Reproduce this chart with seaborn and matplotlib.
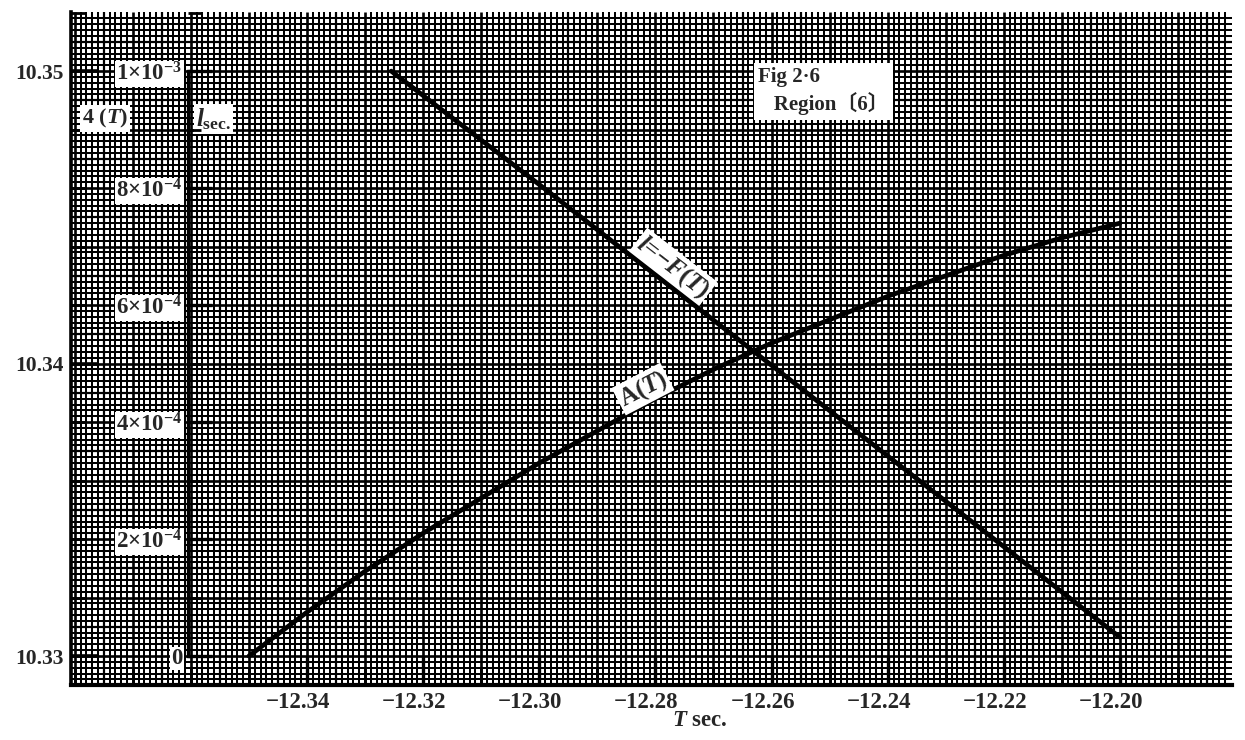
import numpy as np
import pandas as pd
import matplotlib
matplotlib.use("Agg")
import matplotlib.pyplot as plt
import seaborn as sns
from matplotlib.ticker import FixedLocator, MultipleLocator
from matplotlib.transforms import ScaledTranslation

# ---------------- data ----------------
T_A = [-12.35, -12.34, -12.33, -12.32, -12.31, -12.30, -12.29, -12.28,
       -12.27, -12.26, -12.25, -12.24, -12.23, -12.22, -12.21, -12.20]
A_vals = [10.3300, 10.3315, 10.3329, 10.3342, 10.3354, 10.3366, 10.3377, 10.3388,
          10.3398, 10.3407, 10.3415, 10.3423, 10.3430, 10.3437, 10.3443, 10.3448]

T_F = [-12.3255, -12.30, -12.26, -12.22, -12.20]
F_vals = [1.0e-3, 8.06e-4, 4.97e-4, 1.87e-4, 3.2e-5]

x_ticks = [-12.34, -12.32, -12.30, -12.28, -12.26, -12.24, -12.22, -12.20]
x_labels = ["−12.34", "−12.32", "−12.30", "−12.28", "−12.26", "−12.24", "−12.22", "−12.20"]
left_ticks = [10.33, 10.34, 10.35]
left_labels = ["10.33", "10.34", "10.35"]
l_ticks = [0, 2e-4, 4e-4, 6e-4, 8e-4, 1e-3]
l_labels = ["0", "2×10$^{-4}$", "4×10$^{-4}$", "6×10$^{-4}$", "8×10$^{-4}$", "1×10$^{-3}$"]

# ---------------- style ----------------
sns.set_style("ticks")
plt.rcParams["font.family"] = ["Liberation Serif", "DejaVu Serif"]
plt.rcParams["font.weight"] = "bold"
plt.rcParams["mathtext.fontset"] = "custom"
plt.rcParams["mathtext.rm"] = "Liberation Serif:bold"
plt.rcParams["mathtext.it"] = "Liberation Serif:italic:bold"
plt.rcParams["mathtext.default"] = "regular"

W, H = 1245, 740
fig = plt.figure(figsize=(W / 100, H / 100), dpi=100, facecolor="white")
L, R, TOP, BOT = 71, 1232, 12, 685
ax = fig.add_axes([L / W, 1 - BOT / H, (R - L) / W, (BOT - TOP) / H])

xlim = (-12.38064, -12.18071)
ylim = (10.32901, 10.35202)
ax.set_xlim(*xlim)
ax.set_ylim(*ylim)

# ---------------- graph paper background ----------------
def grid_lines(lo, hi, step):
    k0 = int(np.ceil(lo / step - 1e-9))
    k1 = int(np.floor(hi / step + 1e-9))
    return np.arange(k0, k1 + 1)

LW_FINE, LW_MED, LW_HEAVY = 1.45, 1.6, 1.9

kx = grid_lines(xlim[0], xlim[1] - 0.0004, 0.001)
for cls, lw in ((0, LW_FINE), (1, LW_MED), (2, LW_HEAVY)):
    if cls == 0:
        sel = kx[(kx % 5) != 0]
    elif cls == 1:
        sel = kx[((kx % 5) == 0) & ((kx % 10) != 0)]
    else:
        sel = kx[(kx % 10) == 0]
    ax.vlines(sel * 0.001, 0, 1, transform=ax.get_xaxis_transform(),
              colors="black", lw=lw, zorder=0.5)

ky = grid_lines(ylim[0], ylim[1] - 0.00005, 0.0002)
for cls, lw in ((0, LW_FINE), (1, LW_MED), (2, LW_HEAVY)):
    if cls == 0:
        sel = ky[(ky % 5) != 0]
    elif cls == 1:
        sel = ky[((ky % 5) == 0) & ((ky % 10) != 0)]
    else:
        sel = ky[(ky % 10) == 0]
    ax.hlines(sel * 0.0002, 0, 1, transform=ax.get_yaxis_transform(),
              colors="black", lw=lw, zorder=0.5)

# ---------------- curves ----------------
dfA = pd.DataFrame({"T": T_A, "A": A_vals})
sns.lineplot(data=dfA, x="T", y="A", ax=ax, color="black", lw=3.4, zorder=3,
             estimator=None, sort=True)

ax2 = ax.twinx()
dfF = pd.DataFrame({"T": T_F, "l": F_vals})
sns.lineplot(data=dfF, x="T", y="l", ax=ax2, color="black", lw=3.4, zorder=3,
             estimator=None, sort=True)

ax.set_xlim(*xlim)
ax.set_ylim(*ylim)
ax2.set_ylim((ylim[0] - 10.33) * 0.05, (ylim[1] - 10.33) * 0.05)
ax.set_ylabel("")
ax2.set_ylabel("")

# ---------------- outer axes ----------------
for s in ("top", "right"):
    ax.spines[s].set_visible(False)
ax.spines["left"].set_linewidth(2.6)
ax.spines["bottom"].set_linewidth(3.0)
ax.spines["left"].set_color("black")
ax.spines["bottom"].set_color("black")

ax.xaxis.set_major_locator(FixedLocator(x_ticks))
ax.set_xticklabels(x_labels)
ax.xaxis.set_minor_locator(MultipleLocator(0.01))
ax.tick_params(axis="x", which="major", direction="in", length=21, width=2.4,
               color="black", labelsize=16.5, pad=5)
ax.tick_params(axis="x", which="minor", direction="in", length=12, width=2.0,
               color="black")
for lab in ax.get_xticklabels():
    lab.set_transform(lab.get_transform() + ScaledTranslation(-0.09, 0, fig.dpi_scale_trans))
    lab.set_fontweight("bold")

ax.yaxis.set_major_locator(FixedLocator(left_ticks))
ax.set_yticklabels(left_labels)
ax.yaxis.set_minor_locator(MultipleLocator(0.002))
ax.tick_params(axis="y", which="major", direction="in", length=19, width=2.6,
               color="black", labelsize=15.5, pad=5)
ax.tick_params(axis="y", which="minor", direction="in", length=10, width=2.0,
               color="black")
for lab in ax.get_yticklabels():
    lab.set_fontweight("bold")

ax.set_xlabel("$\\mathit{T}$ sec.", fontsize=16.5, fontweight="bold")
ax.xaxis.set_label_coords((700 - L) / (R - L), (BOT - 720) / (BOT - TOP))
ax.xaxis.label.set_va("center")

# ---------------- inner l axis ----------------
ax2.patch.set_visible(False)
for s in ("top", "right", "bottom"):
    ax2.spines[s].set_visible(False)
ax2.spines["left"].set_visible(True)
ax2.spines["left"].set_position(("data", -12.3605))
ax2.spines["left"].set_bounds(0, 1e-3)
ax2.spines["left"].set_linewidth(2.4)
ax2.spines["left"].set_color("black")
ax2.yaxis.tick_left()
ax2.yaxis.set_major_locator(FixedLocator(l_ticks))
ax2.set_yticklabels(l_labels)
ax2.yaxis.set_minor_locator(MultipleLocator(1e-4))
ax2.tick_params(axis="y", which="major", direction="in", length=17, width=2.4,
                color="black", labelsize=16.5, pad=4)
ax2.tick_params(axis="y", which="minor", direction="in", length=9, width=2.0,
                color="black")
for lab in ax2.get_yticklabels():
    lab.set_fontweight("bold")
    lab.set_bbox(dict(facecolor="white", edgecolor="none", pad=1.0))
ax2.set_xlim(*xlim)

# ---------------- annotations ----------------
box = dict(facecolor="white", edgecolor="none", pad=1.5)

def px(xp, yp):
    return (-12.34 + (xp - 307) / 5807.0, 10.35 - (yp - 71) / 29250.0)

x0, y0 = px(105, 118)
ax.text(x0, y0, "4 ($\\mathit{T}$)", fontsize=16, fontweight="bold",
        ha="center", va="center", bbox=box, zorder=6)

x0, y0 = px(196, 119)
ax.text(x0, y0, "$\\mathit{l}_{\\mathrm{sec.}}$", fontsize=18, fontweight="bold",
        ha="left", va="center", bbox=box, zorder=6)

x0, y0 = px(758, 67)
ax.text(x0, y0, "Fig 2·6\n   Region〔6〕", fontsize=15, fontweight="bold",
        family=["Liberation Serif", "Noto Sans CJK JP", "DejaVu Serif"],
        ha="left", va="top", linespacing=1.3,
        bbox=dict(facecolor="white", edgecolor="none", pad=3), zorder=6)

x0, y0 = px(673, 267)
ax.text(x0, y0, "$\\mathit{l}$=−$\\mathit{F}$($\\mathit{T}$)", fontsize=18,
        fontweight="bold", rotation=-37.7, rotation_mode="anchor",
        ha="center", va="center", bbox=box, zorder=6)

x0, y0 = px(643, 389)
ax.text(x0, y0, "A($\\mathit{T}$)", fontsize=18, fontweight="bold",
        rotation=27.5, rotation_mode="anchor",
        ha="center", va="center", bbox=box, zorder=6)

fig.savefig("out.png", dpi=100, facecolor="white")
